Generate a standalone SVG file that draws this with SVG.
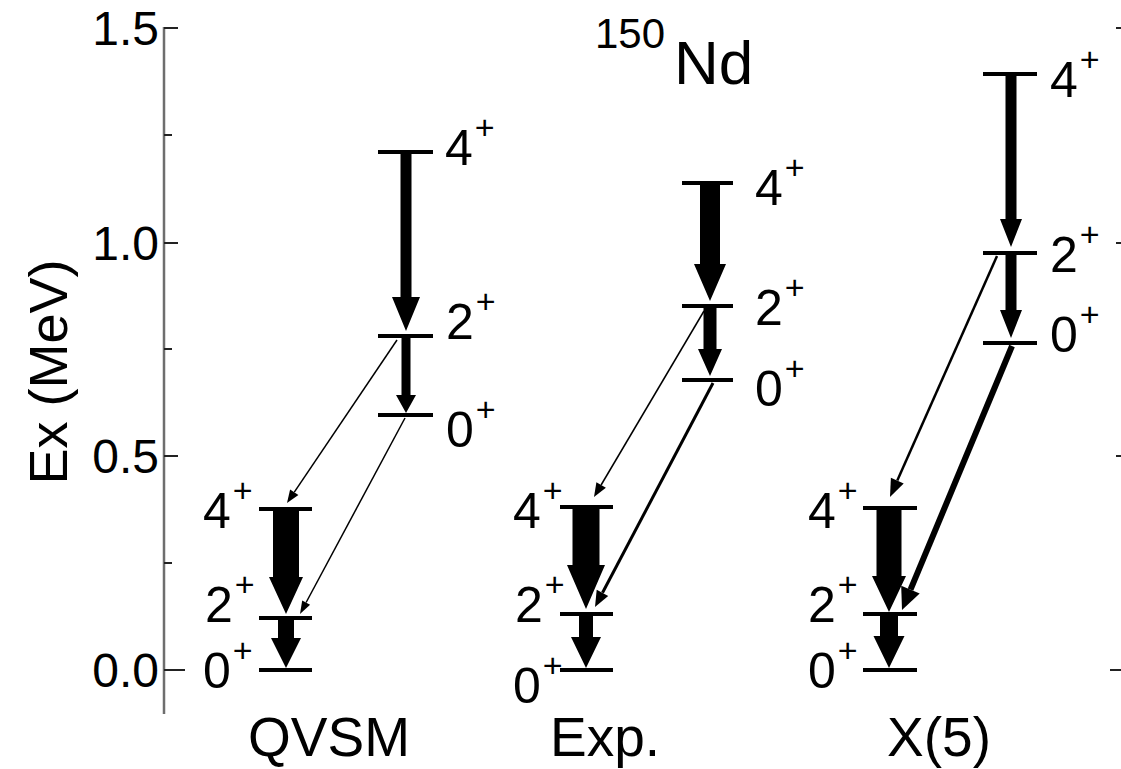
<svg xmlns="http://www.w3.org/2000/svg" width="1121" height="769" viewBox="0 0 1121 769">
  <style>
    text { font-family: "Liberation Sans", Arial, sans-serif; fill: #000; }
    .tick-label { font-size: 48px; text-anchor: end; }
    .spin { font-size: 50px; }
    .spin tspan { font-size: 34px; }
    .name { font-size: 55px; text-anchor: middle; }
    .level { stroke: #000; stroke-width: 4; }
    .axis { stroke: #6e6e6e; stroke-width: 2.5; }
    .tick { stroke: #222; stroke-width: 2; }
    .gamma { fill: #000; }
    .cross { stroke: #000; fill: none; }
  </style>

  <!-- energy axis: y = 670 - 428 * E(MeV) -->
  <g id="axis">
    <line class="axis" x1="164" y1="27" x2="164" y2="714"/>
    <line class="tick" x1="164" y1="28" x2="178" y2="28"/>
    <line class="tick" x1="164" y1="135" x2="172" y2="135"/>
    <line class="tick" x1="164" y1="243" x2="178" y2="243"/>
    <line class="tick" x1="164" y1="349" x2="172" y2="349"/>
    <line class="tick" x1="164" y1="456" x2="178" y2="456"/>
    <line class="tick" x1="164" y1="563" x2="172" y2="563"/>
    <line class="tick" x1="164" y1="670" x2="185" y2="670"/>
    <text class="tick-label" x="159" y="45">1.5</text>
    <text class="tick-label" x="159" y="260">1.0</text>
    <text class="tick-label" x="159" y="473">0.5</text>
    <text class="tick-label" x="159" y="687">0.0</text>
    <text x="0" y="0" font-size="54" text-anchor="middle" transform="translate(67,372) rotate(-90)">Ex (MeV)</text>
  </g>
  <g id="axis-right">
    <line class="tick" x1="1116" y1="28" x2="1121" y2="28"/>
    <line class="tick" x1="1116" y1="243" x2="1121" y2="243"/>
    <line class="tick" x1="1116" y1="456" x2="1121" y2="456"/>
    <line class="tick" x1="1110" y1="670" x2="1121" y2="670"/>
  </g>

  <g id="title">
    <text x="595" y="48" font-size="42">150</text>
    <text x="674" y="84" font-size="62">Nd</text>
  </g>

  <!-- QVSM -->
  <g id="qvsm-0g"><line class="level" x1="259" y1="670" x2="312" y2="670"/><text class="spin" x="203" y="688">0<tspan dx="2" dy="-26">+</tspan></text></g>
  <g id="qvsm-2g"><line class="level" x1="259" y1="618" x2="312" y2="618"/><text class="spin" x="205" y="622">2<tspan dx="2" dy="-26">+</tspan></text></g>
  <g id="qvsm-4g"><line class="level" x1="259" y1="509" x2="312" y2="509"/><text class="spin" x="203" y="528">4<tspan dx="2" dy="-26">+</tspan></text></g>
  <g id="qvsm-0s"><line class="level" x1="378" y1="415" x2="433" y2="415"/><text class="spin" x="446" y="447">0<tspan dx="2" dy="-26">+</tspan></text></g>
  <g id="qvsm-2s"><line class="level" x1="378" y1="336" x2="433" y2="336"/><text class="spin" x="446" y="339">2<tspan dx="2" dy="-26">+</tspan></text></g>
  <g id="qvsm-4s"><line class="level" x1="378" y1="152" x2="433" y2="152"/><text class="spin" x="445" y="165">4<tspan dx="2" dy="-26">+</tspan></text></g>
  <text class="name" x="329" y="756">QVSM</text>

  <!-- Exp. -->
  <g id="exp-0g"><line class="level" x1="560" y1="670" x2="613" y2="670"/><text class="spin" x="513" y="703">0<tspan dx="2" dy="-26">+</tspan></text></g>
  <g id="exp-2g"><line class="level" x1="560" y1="614" x2="613" y2="614"/><text class="spin" x="515" y="622">2<tspan dx="2" dy="-26">+</tspan></text></g>
  <g id="exp-4g"><line class="level" x1="560" y1="507" x2="613" y2="507"/><text class="spin" x="513" y="528">4<tspan dx="2" dy="-26">+</tspan></text></g>
  <g id="exp-0s"><line class="level" x1="682" y1="380" x2="733" y2="380"/><text class="spin" x="755" y="406">0<tspan dx="2" dy="-26">+</tspan></text></g>
  <g id="exp-2s"><line class="level" x1="682" y1="306" x2="733" y2="306"/><text class="spin" x="755" y="325">2<tspan dx="2" dy="-26">+</tspan></text></g>
  <g id="exp-4s"><line class="level" x1="682" y1="183" x2="733" y2="183"/><text class="spin" x="755" y="205">4<tspan dx="2" dy="-26">+</tspan></text></g>
  <text class="name" x="605" y="756">Exp.</text>

  <!-- X(5) -->
  <g id="x5-0g"><line class="level" x1="863" y1="670" x2="917" y2="670"/><text class="spin" x="808" y="688">0<tspan dx="2" dy="-26">+</tspan></text></g>
  <g id="x5-2g"><line class="level" x1="863" y1="614" x2="917" y2="614"/><text class="spin" x="808" y="622">2<tspan dx="2" dy="-26">+</tspan></text></g>
  <g id="x5-4g"><line class="level" x1="863" y1="508" x2="917" y2="508"/><text class="spin" x="808" y="528">4<tspan dx="2" dy="-26">+</tspan></text></g>
  <g id="x5-0s"><line class="level" x1="983" y1="343" x2="1037" y2="343"/><text class="spin" x="1050" y="352">0<tspan dx="2" dy="-26">+</tspan></text></g>
  <g id="x5-2s"><line class="level" x1="983" y1="253" x2="1037" y2="253"/><text class="spin" x="1050" y="272">2<tspan dx="2" dy="-26">+</tspan></text></g>
  <g id="x5-4s"><line class="level" x1="983" y1="74" x2="1037" y2="74"/><text class="spin" x="1050" y="97">4<tspan dx="2" dy="-26">+</tspan></text></g>
  <text class="name" x="939" y="756">X(5)</text>

  <!-- transitions; arrow width follows the strength -->
  <g id="transitions">
    <!-- in-band -->
    <polygon class="gamma" points="400.5,154 411.5,154 411.5,297 420,297 406,331 392,297 400.5,297"/>
    <polygon class="gamma" points="401.5,338 410.5,338 410.5,395 416,395 406,413 396,395 401.5,395"/>
    <polygon class="gamma" points="273,510 299,510 299,577 303,577 286,614 269,577 273,577"/>
    <polygon class="gamma" points="278,620 294,620 294,638 301,638 286,668 271,638 278,638"/>
    <polygon class="gamma" points="700,185 720,185 720,264 726,264 710,301 694,264 700,264"/>
    <polygon class="gamma" points="703.5,308 716.5,308 716.5,349 722,349 710,376 698,349 703.5,349"/>
    <polygon class="gamma" points="572.5,509 599.5,509 599.5,565 605,565 586,609 567,565 572.5,565"/>
    <polygon class="gamma" points="579,616 593,616 593,637 601,637 586,668 571,637 579,637"/>
    <polygon class="gamma" points="1005.5,76 1016.5,76 1016.5,219 1022,219 1011,247 1000,219 1005.5,219"/>
    <polygon class="gamma" points="1005.5,255 1016.5,255 1016.5,310 1022,310 1011,338 1000,310 1005.5,310"/>
    <polygon class="gamma" points="876.5,510 901.5,510 901.5,576 906,576 889,612 872,576 876.5,576"/>
    <polygon class="gamma" points="880,616 898,616 898,636 904.5,636 889,668 873.5,636 880,636"/>
    <!-- inter-band -->
    <line class="cross" x1="397" y1="340" x2="294.3" y2="492.2" stroke-width="1.5"/>
    <polygon class="gamma" points="287,503 298.4,495.0 290.1,489.4"/>
    <line class="cross" x1="405" y1="418" x2="306.1" y2="602.5" stroke-width="1.5"/>
    <polygon class="gamma" points="300,614 310.1,604.7 302.2,600.4"/>
    <line class="cross" x1="704" y1="311" x2="601.1" y2="485" stroke-width="1.5"/>
    <polygon class="gamma" points="594,497 605.9,487.8 596.4,482.2"/>
    <line class="cross" x1="713" y1="383" x2="602.5" y2="592.8" stroke-width="3"/>
    <polygon class="gamma" points="595,607 608.2,595.9 596.7,589.8"/>
    <line class="cross" x1="997" y1="256" x2="897.3" y2="480.6" stroke-width="2.5"/>
    <polygon class="gamma" points="890,497 903.7,483.4 890.9,477.7"/>
    <line class="cross" x1="1012" y1="346" x2="910.5" y2="589.7" stroke-width="6"/>
    <polygon class="gamma" points="902,610 919.7,593.5 901.2,585.8"/>
  </g>
</svg>
